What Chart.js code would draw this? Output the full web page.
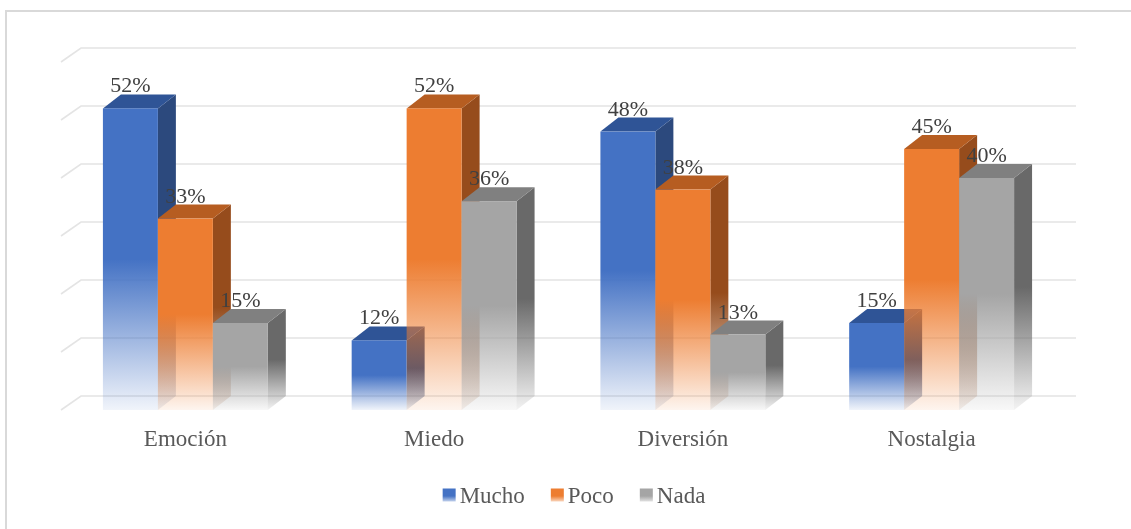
<!DOCTYPE html>
<html lang="es">
<head>
<meta charset="utf-8">
<title>Mucho / Poco / Nada</title>
<script src="https://cdn.jsdelivr.net/npm/chart.js@4.4.1/dist/chart.umd.min.js"></script>
<style>
    html, body { margin: 0; padding: 0; background: #ffffff; }
    #contenedor { width: 1131px; height: 529px; position: relative; }
</style>
</head>
<body>
<div id="contenedor"><canvas id="grafico"></canvas></div>
<script>
// Datos del gráfico
const categorias = ['Emoción', 'Miedo', 'Diversión', 'Nostalgia'];
const series = ['Mucho', 'Poco', 'Nada'];
const mucho = [52, 12, 48, 15];
const poco = [33, 52, 38, 45];
const nada = [15, 36, 13, 40];
const marcasY = [0, 10, 20, 30, 40, 50, 60];

// Colores: cara frontal, tapa y lateral
const colores = [
    { frente: [68, 114, 196], tapa: [47, 84, 150], lado: [44, 73, 125] },
    { frente: [237, 125, 49], tapa: [182, 93, 33], lado: [150, 76, 28] },
    { frente: [165, 165, 165], tapa: [128, 128, 128], lado: [105, 105, 105] }
];

const fuente = "'Liberation Serif', 'Times New Roman', serif";
const profX = 18;   // profundidad de las barras
const profY = 14;
const paredX = 20;  // profundidad de la pared del fondo
const paredY = 14;

function rgba(c, a) {
    return 'rgba(' + c[0] + ',' + c[1] + ',' + c[2] + ',' + a + ')';
}

function degradado(ctx, y0, y1, c) {
    const g = ctx.createLinearGradient(0, y0, 0, y1);
    g.addColorStop(0, rgba(c, 1));
    g.addColorStop(0.5, rgba(c, 1));
    g.addColorStop(1, rgba(c, 0.08));
    return g;
}

const barras3d = {
    id: 'barras3d',
    beforeDraw(chart) {
        const ctx = chart.ctx;
        ctx.save();
        ctx.fillStyle = '#ffffff';
        ctx.fillRect(0, 0, chart.width, chart.height);
        // Marco exterior
        ctx.strokeStyle = '#d9d9d9';
        ctx.lineWidth = 2;
        ctx.strokeRect(6, 11, chart.width + 20, chart.height + 20);
        ctx.restore();
    },
    beforeDatasetsDraw(chart) {
        // Líneas de la pared del fondo
        const ctx = chart.ctx;
        const area = chart.chartArea;
        const y = chart.scales.y;
        ctx.save();
        ctx.strokeStyle = '#e4e4e4';
        ctx.lineWidth = 1.6;
        marcasY.forEach(v => {
            const py = y.getPixelForValue(v);
            ctx.beginPath();
            ctx.moveTo(area.left, py);
            ctx.lineTo(area.left + paredX, py - paredY);
            ctx.lineTo(area.right + paredX, py - paredY);
            ctx.stroke();
        });
        ctx.restore();
    },
    afterDatasetsDraw(chart) {
        const ctx = chart.ctx;
        ctx.save();
        const etiquetas = [];
        chart.data.datasets.forEach((ds, d) => {
            const col = colores[d];
            chart.getDatasetMeta(d).data.forEach((bar, i) => {
                const p = bar.getProps(['x', 'y', 'base', 'width'], true);
                const izq = p.x - p.width / 2;
                const der = p.x + p.width / 2;
                const arriba = p.y;
                const abajo = p.base;

                // Lateral
                ctx.beginPath();
                ctx.moveTo(der, arriba);
                ctx.lineTo(der + profX, arriba - profY);
                ctx.lineTo(der + profX, abajo - profY);
                ctx.lineTo(der, abajo);
                ctx.closePath();
                ctx.fillStyle = degradado(ctx, arriba - profY, abajo, col.lado);
                ctx.fill();

                // Tapa
                ctx.beginPath();
                ctx.moveTo(izq, arriba);
                ctx.lineTo(izq + profX, arriba - profY);
                ctx.lineTo(der + profX, arriba - profY);
                ctx.lineTo(der, arriba);
                ctx.closePath();
                ctx.fillStyle = rgba(col.tapa, 1);
                ctx.fill();

                // Frente
                ctx.fillStyle = degradado(ctx, arriba, abajo, col.frente);
                ctx.fillRect(izq, arriba, p.width, abajo - arriba);

                etiquetas.push({ x: p.x, y: arriba - profY - 2, texto: ds.data[i] + '%' });
            });
        });

        // Etiquetas de datos
        ctx.font = '22px ' + fuente;
        ctx.fillStyle = '#404040';
        ctx.textAlign = 'center';
        ctx.textBaseline = 'alphabetic';
        etiquetas.forEach(e => ctx.fillText(e.texto, e.x, e.y));

        // Leyenda
        ctx.font = '23px ' + fuente;
        ctx.textAlign = 'left';
        const caja = 13, hueco = 4, sep = 26;
        const anchos = series.map(s => ctx.measureText(s).width);
        let total = 0;
        anchos.forEach((w, k) => { total += caja + hueco + w + (k < anchos.length - 1 ? sep : 0); });
        let lx = 574 - total / 2;
        const ly = 495;
        series.forEach((s, k) => {
            ctx.fillStyle = degradado(ctx, ly - caja / 2, ly + caja / 2 + 2, colores[k].frente);
            ctx.fillRect(lx, ly - caja / 2, caja, caja);
            ctx.fillStyle = '#595959';
            ctx.fillText(s, lx + caja + hueco, ly + 8);
            lx += caja + hueco + anchos[k] + sep;
        });
        ctx.restore();
    }
};

new Chart(document.getElementById('grafico'), {
    type: 'bar',
    data: {
        labels: categorias,
        datasets: [
            { label: series[0], data: mucho, backgroundColor: 'rgba(0,0,0,0)' },
            { label: series[1], data: poco, backgroundColor: 'rgba(0,0,0,0)' },
            { label: series[2], data: nada, backgroundColor: 'rgba(0,0,0,0)' }
        ]
    },
    options: {
        responsive: true,
        maintainAspectRatio: false,
        animation: false,
        categoryPercentage: 0.663,
        barPercentage: 1.0,
        layout: { padding: { left: 61, right: 75, top: 62, bottom: 59 } },
        plugins: {
            legend: { display: false },
            tooltip: { enabled: false }
        },
        scales: {
            x: {
                grid: { display: false, drawTicks: false },
                border: { display: false },
                ticks: { color: '#595959', font: { family: fuente, size: 23 }, padding: 16 },
                afterFit(scale) { scale.height = 60; }
            },
            y: {
                display: false,
                min: 0,
                max: 60,
                ticks: { stepSize: 10 }
            }
        }
    },
    plugins: [barras3d]
});
</script>
</body>
</html>
